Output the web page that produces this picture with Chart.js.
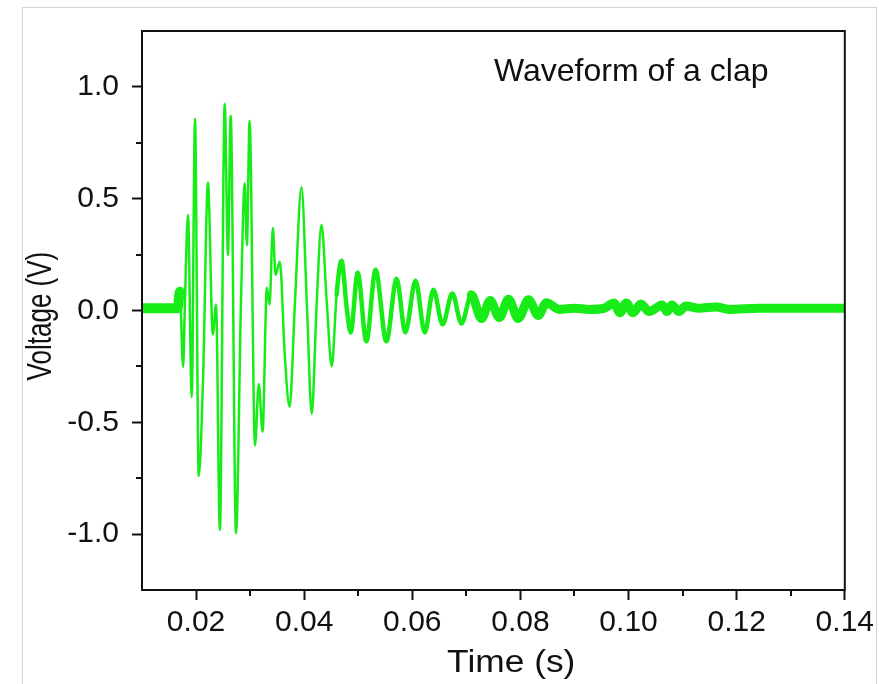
<!DOCTYPE html>
<html><head><meta charset="utf-8">
<script src="https://cdn.jsdelivr.net/npm/chart.js@4.4.1/dist/chart.umd.min.js"></script>
<style>
html,body{margin:0;padding:0;background:#fff;}
#wrap{position:relative;width:879px;height:684px;overflow:hidden;background:#fff;}
#frame{position:absolute;left:22px;top:7px;width:853px;height:700px;border:1px solid #d4d4d4;pointer-events:none;}
canvas{position:absolute;left:0;top:0;}
#note{position:absolute;left:494px;top:50px;font:32px "Liberation Sans",Arial,sans-serif;color:#111;white-space:nowrap;line-height:40px;}
</style></head><body>
<div id="wrap"><canvas id="c" width="879" height="684"></canvas><div id="frame"></div><div id="note">Waveform of a clap</div></div>
<script>
// Time (s)
const times = [
0.0100,0.0133,0.0166,0.0170,0.0176,0.0179,0.0185,0.0192,0.0198,0.0205,
0.0213,0.0222,0.0231,0.0237,0.0244,0.0253,0.0259,0.0264,0.0274,0.0283,
0.0290,0.0294,0.0299,0.0309,0.0316,0.0323,0.0331,0.0336,0.0342,0.0347,
0.0355,0.0364,0.0373,0.0383,0.0395,0.0405,0.0414,0.0423,0.0432,0.0442,
0.0451,0.0460,0.0469,0.0479,0.0486,0.0499,0.0515,0.0532,0.0552,0.0571,
0.0587,0.0606,0.0623,0.0639,0.0656,0.0674,0.0691,0.0709,0.0728,0.0744,
0.0761,0.0778,0.0796,0.0815,0.0833,0.0848,0.0872,0.0900,0.0927,0.0955,
0.0973,0.0984,0.0996,0.1008,0.1023,0.1038,0.1062,0.1071,0.1080,0.1093,
0.1106,0.1130,0.1162,0.1186,0.1241,0.1282,0.1333,0.1400
];
// Voltage (V)
const voltages = [
0.010,0.010,0.010,0.084,-0.253,-0.004,0.427,-0.387,0.858,-0.740,
-0.300,0.573,-0.107,0.027,-0.982,0.924,0.249,0.871,-0.996,0.027,
0.569,0.293,0.849,-0.604,-0.329,-0.542,0.102,0.027,0.369,0.160,
0.218,-0.196,-0.431,0.040,0.551,0.027,-0.462,0.027,0.382,0.027,
-0.249,0.071,0.222,0.004,-0.098,0.169,-0.138,0.182,-0.138,0.142,
-0.098,0.133,-0.098,0.093,-0.062,0.076,-0.058,0.070,-0.036,0.045,
-0.031,0.050,-0.036,0.048,-0.022,0.035,0.005,0.010,0.005,0.010,
0.034,-0.010,0.034,-0.010,0.029,-0.005,0.025,-0.005,0.025,-0.005,
0.020,0.010,0.016,0.005,0.010,0.010,0.010,0.010
];
const xTicks = [0.02,0.04,0.06,0.08,0.10,0.12,0.14];
const xMinorTicks = [0.03,0.05,0.07,0.09,0.11,0.13];
const yTicks = [-1.0,-0.5,0.0,0.5,1.0];
const yMinorTicks = [-0.75,-0.25,0.25,0.75];
const xTitle = 'Time (s)';
const yTitle = 'Voltage (V)';

const FONT = '"Liberation Sans", Arial, sans-serif';
const INK = '#111';
const GREEN = 'rgb(24,236,24)';

function segWidth(ctx){
  const t = times[ctx.p0DataIndex];
  if (t < 0.0168) return 10;
  if (t < 0.046) return 2.5;
  if (t < 0.070) return 4.5;
  return 9;
}

const framePlugin = {
  id: 'frame',
  afterDraw(chart){
    const {ctx, chartArea:a, scales:{x, y}} = chart;
    ctx.save();
    ctx.strokeStyle = INK; ctx.lineWidth = 2;
    ctx.strokeRect(a.left, a.top, a.right - a.left, a.bottom - a.top);
    ctx.beginPath();
    xMinorTicks.forEach(v => { const p = Math.round(x.getPixelForValue(v)); ctx.moveTo(p, a.bottom); ctx.lineTo(p, a.bottom + 6); });
    yMinorTicks.forEach(v => { const p = Math.round(y.getPixelForValue(v)); ctx.moveTo(a.left, p); ctx.lineTo(a.left - 6, p); });
    ctx.stroke();
    // axis titles (slightly wide glyphs, like the reference)
    ctx.fillStyle = INK;
    ctx.textAlign = 'center'; ctx.textBaseline = 'middle';
    ctx.save();
    ctx.translate(x.getPixelForValue(0.0783), a.bottom + 73);
    ctx.scale(1.14, 1);
    ctx.font = '31px ' + FONT;
    ctx.fillText(xTitle, 0, 0);
    ctx.restore();
    ctx.save();
    ctx.translate(a.left - 101, y.getPixelForValue(-0.025));
    ctx.scale(1.35, 1);
    ctx.rotate(-Math.PI / 2);
    ctx.font = '26px ' + FONT;
    ctx.fillText(yTitle, 0, 0);
    ctx.restore();
    ctx.restore();
  }
};

new Chart(document.getElementById('c'), {
  type: 'line',
  data: {
    datasets: [{
      label: 'Waveform',
      data: times.map((t, i) => ({x: t, y: voltages[i]})),
      borderColor: GREEN,
      borderWidth: 2.5,
      pointRadius: 0,
      cubicInterpolationMode: 'monotone',
      borderJoinStyle: 'round',
      borderCapStyle: 'round',
      segment: { borderWidth: segWidth }
    }]
  },
  options: {
    responsive: false,
    devicePixelRatio: 1,
    animation: false,
    layout: { padding: { left: 0, top: 25, right: 33, bottom: 0 } },
    plugins: { legend: { display: false }, tooltip: { enabled: false } },
    scales: {
      x: {
        type: 'linear', min: 0.01, max: 0.14,
        afterBuildTicks: s => { s.ticks = xTicks.map(v => ({value: v})); },
        afterFit: s => { s.height = 94; },
        ticks: { font: {family: FONT, size: 30}, color: INK, padding: 5, maxRotation: 0, autoSkip: false,
                 callback: v => Number(v).toFixed(2) },
        grid: { drawOnChartArea: false, drawTicks: true, tickLength: 10, tickWidth: 2, tickColor: INK },
        border: { display: true, width: 2, color: INK },
        title: { display: false }
      },
      y: {
        type: 'linear', min: -1.25, max: 1.25,
        afterBuildTicks: s => { s.ticks = yTicks.map(v => ({value: v})); },
        afterFit: s => { s.width = 142; },
        ticks: { font: {family: FONT, size: 30}, color: INK, padding: 13, autoSkip: false,
                 callback: v => Number(v).toFixed(1) },
        grid: { drawOnChartArea: false, drawTicks: true, tickLength: 10, tickWidth: 2, tickColor: INK },
        border: { display: true, width: 2, color: INK },
        title: { display: false }
      }
    }
  },
  plugins: [framePlugin]
});
</script>
</body></html>
